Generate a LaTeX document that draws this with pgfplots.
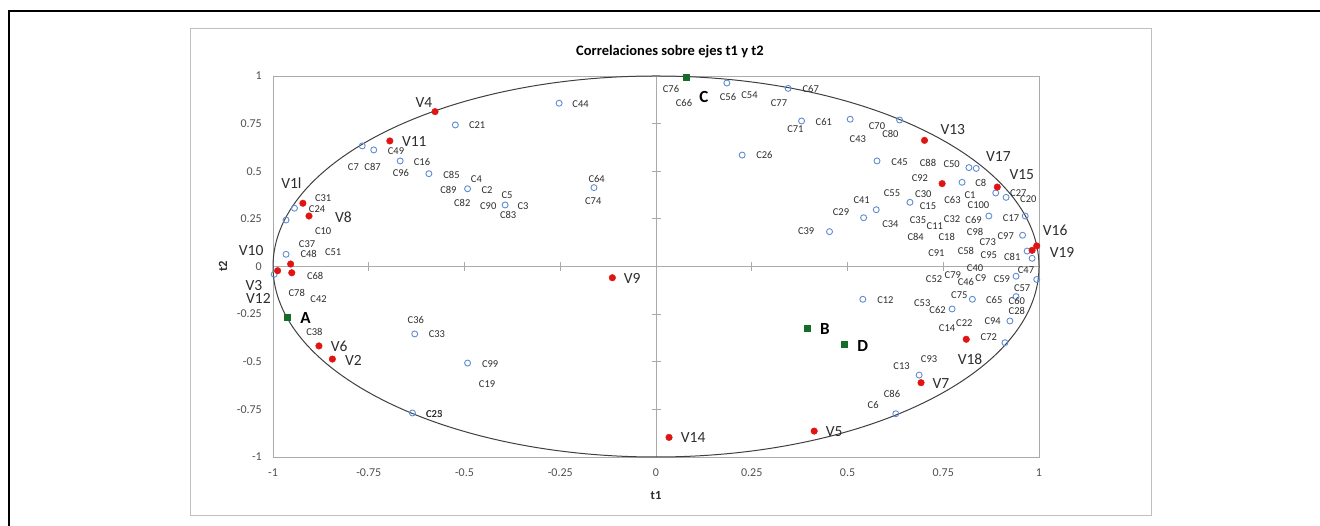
\documentclass[border=0pt]{standalone}
\usepackage{fontspec}
\setmainfont{Carlito}
\usepackage{pgfplots}
\usepackage{pgfplotstable}
\pgfplotsset{compat=1.18}
\definecolor{ptblue}{RGB}{95,140,210}
\definecolor{ptred}{RGB}{225,20,20}
\definecolor{ptgreen}{RGB}{20,110,40}
\definecolor{axgray}{RGB}{170,170,170}
\definecolor{framegray}{RGB}{190,190,190}
\definecolor{txt}{RGB}{45,45,45}
\definecolor{ticktxt}{RGB}{80,80,80}

\pgfplotstableread{
x y
-0.253 0.857
-0.524 0.743
-0.767 0.633
-0.737 0.612
-0.668 0.554
-0.593 0.487
-0.492 0.408
-0.394 0.323
-0.162 0.414
-0.944 0.306
-0.966 0.244
-0.966 0.064
-0.997 -0.041
-0.630 -0.354
-0.492 -0.507
-0.636 -0.769
0.185 0.963
0.345 0.935
0.380 0.764
0.507 0.773
0.636 0.769
0.225 0.585
0.577 0.554
0.817 0.519
0.836 0.515
0.799 0.442
0.887 0.386
0.914 0.363
0.663 0.337
0.575 0.298
0.542 0.256
0.869 0.265
0.964 0.265
0.453 0.183
0.957 0.164
0.969 0.081
0.982 0.043
0.940 -0.051
0.994 -0.068
0.540 -0.172
0.826 -0.172
0.940 -0.158
0.773 -0.223
0.924 -0.286
0.911 -0.400
0.687 -0.570
0.626 -0.773
}\bluepts

\pgfplotstableread{
x y
-0.577 0.813
-0.695 0.659
-0.922 0.332
-0.906 0.265
-0.954 0.013
-0.988 -0.022
-0.951 -0.033
-0.114 -0.059
-0.880 -0.417
-0.845 -0.486
0.701 0.662
0.747 0.435
0.891 0.417
0.994 0.108
0.982 0.085
0.810 -0.382
0.692 -0.610
0.413 -0.864
0.034 -0.897
}\redpts

\pgfplotstableread{
x y
-0.963 -0.265
0.396 -0.324
0.078 0.995
0.492 -0.408
}\greenpts

\pgfplotstableread{
x y label
-0.197 0.853 C44
-0.467 0.741 C21
-0.679 0.608 C49
-0.790 0.521 C7
-0.740 0.521 C87
-0.611 0.547 C16
-0.666 0.492 C96
-0.534 0.482 C85
-0.469 0.459 C4
-0.542 0.403 C89
-0.441 0.403 C2
-0.389 0.375 C5
-0.506 0.333 C82
-0.438 0.319 C90
-0.347 0.319 C3
-0.386 0.269 C83
-0.155 0.459 C64
-0.164 0.342 C74
-0.869 0.361 C31
-0.885 0.300 C24
-0.869 0.186 C10
-0.911 0.117 C37
-0.907 0.064 C48
-0.843 0.076 C51
-0.890 -0.050 C68
-0.938 -0.141 C78
-0.881 -0.169 C42
-0.892 -0.342 C38
-0.627 -0.279 C36
-0.572 -0.356 C33
-0.433 -0.514 C99
-0.441 -0.618 C19
-0.579 -0.776 C23
-0.579 -0.776 C25
0.039 0.930 C76
0.073 0.857 C66
0.188 0.891 C56
0.244 0.899 C54
0.321 0.860 C77
0.404 0.930 C67
0.364 0.723 C71
0.438 0.759 C61
0.577 0.738 C70
0.612 0.696 C80
0.527 0.671 C43
0.283 0.585 C26
0.636 0.549 C45
0.710 0.543 C88
0.772 0.536 C50
0.689 0.465 C92
0.848 0.437 C8
0.616 0.386 C55
0.698 0.381 C30
0.820 0.375 C1
0.946 0.384 C27
0.972 0.356 C20
0.537 0.349 C41
0.710 0.319 C15
0.774 0.349 C63
0.842 0.321 C100
0.483 0.284 C29
0.612 0.223 C34
0.684 0.243 C35
0.728 0.214 C11
0.773 0.248 C32
0.829 0.243 C69
0.927 0.256 C17
0.392 0.185 C39
0.678 0.153 C84
0.759 0.153 C18
0.833 0.181 C98
0.913 0.162 C97
0.866 0.129 C73
0.732 0.072 C91
0.809 0.080 C58
0.869 0.059 C95
0.930 0.048 C81
0.833 -0.010 C40
0.966 -0.018 C47
0.726 -0.066 C52
0.775 -0.043 C79
0.809 -0.081 C46
0.848 -0.062 C9
0.903 -0.067 C59
0.956 -0.111 C57
0.792 -0.151 C75
0.883 -0.177 C65
0.942 -0.183 C60
0.599 -0.177 C12
0.695 -0.190 C53
0.735 -0.228 C62
0.942 -0.235 C28
0.879 -0.286 C94
0.805 -0.298 C22
0.760 -0.325 C14
0.869 -0.370 C72
0.713 -0.486 C93
0.641 -0.522 C13
0.616 -0.671 C86
0.567 -0.725 C6
}\clabels

\pgfplotstableread{
x y label
-0.606 0.860 V4
-0.631 0.657 V11
-0.952 0.437 V1l
-0.816 0.260 V8
-1.057 0.083 V10
-1.050 -0.098 V3
-1.038 -0.170 V12
-0.827 -0.421 V6
-0.790 -0.491 V2
-0.062 -0.062 V9
0.775 0.720 V13
0.894 0.577 V17
0.955 0.480 V15
1.042 0.188 V16
1.060 0.076 V19
0.820 -0.487 V18
0.744 -0.613 V7
0.465 -0.867 V5
0.097 -0.900 V14
}\vlabels

\pgfplotstableread{
x y label
-0.915 -0.270 A
0.441 -0.330 B
0.125 0.888 C
0.540 -0.416 D
}\glabels

\begin{document}
\begin{tikzpicture}[x=1bp,y=1bp]
\path[use as bounding box] (0,0) rectangle (1320,526);
\draw[black, line width=1.5bp] (9,0) -- (9,515) -- (1320,515);
\draw[framegray, line width=1bp] (190,10) rectangle (1151,497);

% center axes with crossing tick marks
\begin{axis}[at={(273bp,69bp)}, anchor=south west, scale only axis,
  width=766bp, height=381bp, xmin=-1, xmax=1, ymin=-1, ymax=1,
  axis lines=middle, axis line style={axgray, -, line width=0.8bp},
  xtick={-0.75,-0.5,-0.25,0.25,0.5,0.75}, ytick={-0.75,-0.5,-0.25,0.25,0.5,0.75},
  xticklabels={}, yticklabels={},
  tick align=center, major tick length=9bp, tick style={axgray, line width=0.8bp}]
\end{axis}

\begin{axis}[at={(273bp,69bp)}, anchor=south west, scale only axis,
  width=766bp, height=381bp, xmin=-1, xmax=1, ymin=-1, ymax=1,
  clip=false,
  axis line style={axgray, line width=0.8bp},
  xtick={-1,-0.75,-0.5,-0.25,0,0.25,0.5,0.75,1},
  ytick={-1,-0.75,-0.5,-0.25,0,0.25,0.5,0.75,1},
  xticklabels={-1,-0.75,-0.5,-0.25,0,0.25,0.5,0.75,1},
  yticklabels={-1,-0.75,-0.5,-0.25,0,0.25,0.5,0.75,1},
  tick style={draw=none},
  ticklabel style={font=\fontsize{12bp}{14bp}\selectfont, text=ticktxt, inner sep=0pt},
  x tick label style={anchor=center, yshift=-16bp},
  y tick label style={anchor=east, xshift=-11bp},
  title={Correlaciones sobre ejes t1 y t2},
  title style={at={(axis description cs:0.5,1)}, anchor=center, yshift=18bp, xshift=14bp,
    font=\bfseries\fontsize{14.5bp}{16bp}\selectfont, text=black},
  xlabel={t1},
  xlabel style={at={(axis description cs:0.5,0)}, anchor=center, yshift=-38bp,
    font=\bfseries\fontsize{12.5bp}{14bp}\selectfont, text=txt},
  ylabel={t2},
  ylabel style={at={(axis description cs:-0.0653,0.5)}, anchor=center,
    font=\bfseries\fontsize{12.5bp}{14bp}\selectfont, text=txt},
]
\draw[black!75, line width=1bp] (axis cs:0,0) ellipse [x radius=1, y radius=1];
\addplot[only marks, mark=o, mark size=3bp, ptblue, mark options={line width=0.9bp}] table {\bluepts};
\addplot[only marks, mark=*, mark size=3.3bp, ptred, mark options={draw=ptred, fill=ptred}] table {\redpts};
\addplot[only marks, mark=square*, mark size=3bp, ptgreen, mark options={draw=ptgreen, fill=ptgreen}] table {\greenpts};
\addplot[only marks, mark=none, nodes near coords, point meta=explicit symbolic,
  nodes near coords align=center,
  every node near coord/.append style={anchor=center, inner sep=0pt, text=txt,
    font=\fontsize{10.5bp}{12bp}\selectfont}] table[meta=label] {\clabels};
\addplot[only marks, mark=none, nodes near coords, point meta=explicit symbolic,
  nodes near coords align=center,
  every node near coord/.append style={anchor=center, inner sep=0pt, text=txt,
    font=\fontsize{15.5bp}{17bp}\selectfont}] table[meta=label] {\vlabels};
\addplot[only marks, mark=none, nodes near coords, point meta=explicit symbolic,
  nodes near coords align=center,
  every node near coord/.append style={anchor=center, inner sep=0pt, text=black,
    font=\bfseries\fontsize{17bp}{19bp}\selectfont}] table[meta=label] {\glabels};
\end{axis}
\end{tikzpicture}
\end{document}
